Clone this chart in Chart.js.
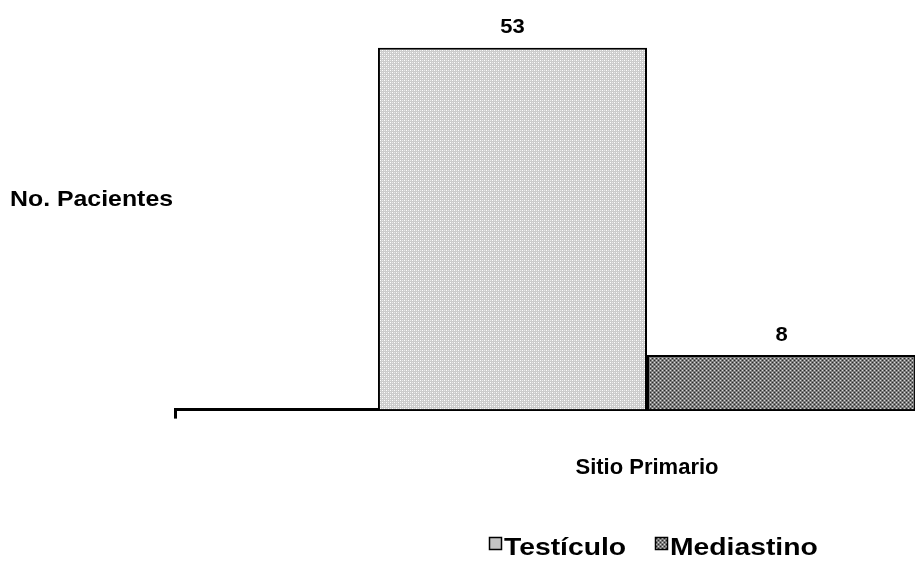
<!DOCTYPE html>
<html lang="es">
<head>
    <meta charset="utf-8">
    <title>Sitio Primario</title>
    <script src="https://cdn.jsdelivr.net/npm/chart.js"></script>
    <style>
        html, body { margin: 0; padding: 0; background: #fff; overflow: hidden; }
        #wrap { width: 915px; height: 561px; overflow: hidden; }
        canvas { display: block; }
    </style>
</head>
<body>
<div id="wrap">
    <canvas id="sitioChart" width="1119" height="561"></canvas>
</div>

<script>
    // data
    var categorias = [''];
    var seriesNames = ['Testículo', 'Mediastino'];
    var testiculo = [53];
    var mediastino = [8];
    var yTitle = 'No. Pacientes';
    var xTitle = 'Sitio Primario';

    var FONT = '"Liberation Sans", Arial, sans-serif';

    // little dotted fills like the old office patterns
    function makePattern(base, dots, dark) {
        var c = document.createElement('canvas');
        c.width = 4; c.height = 4;
        var g = c.getContext('2d');
        g.fillStyle = base;
        g.fillRect(0, 0, 4, 4);
        g.fillStyle = dots;
        g.fillRect(0, 0, 1, 1);
        g.fillRect(2, 2, 1, 1);
        if (dark) {
            g.fillStyle = dark;
            g.fillRect(2, 0, 1, 1);
            g.fillRect(0, 2, 1, 1);
        }
        return g.createPattern(c, 'repeat');
    }
    var fillTest = makePattern('#cccccc', '#ffffff', '#e8e8e8');
    var fillMed = makePattern('#7c7c7c', '#d8d8d8', '#2a2a2a');

    // wide bold text, the original font is broader than Liberation
    function wideText(ctx, txt, x, y, stretch) {
        ctx.save();
        ctx.translate(x, y);
        ctx.scale(stretch, 1);
        ctx.fillText(txt, 0, 0);
        ctx.restore();
    }

    // value labels over bars, horizontal y title, custom legend
    var extras = {
        id: 'extras',
        afterDraw: function (chart) {
            var ctx = chart.ctx;
            ctx.save();
            ctx.fillStyle = '#000';
            ctx.font = 'bold 20px ' + FONT;
            ctx.textAlign = 'center';
            ctx.textBaseline = 'middle';
            chart.data.datasets.forEach(function (ds, i) {
                chart.getDatasetMeta(i).data.forEach(function (bar, j) {
                    wideText(ctx, ds.data[j], bar.x, bar.y - 20, 1.1);
                });
            });

            ctx.font = 'bold 22px ' + FONT;
            ctx.textAlign = 'left';
            wideText(ctx, yTitle, 10, 200, 1.13);

            // legend
            var fills = [fillTest, fillMed];
            var starts = [489, 655];
            ctx.font = 'bold 23px ' + FONT;
            ctx.textBaseline = 'alphabetic';
            for (var k = 0; k < seriesNames.length; k++) {
                ctx.fillStyle = k === 0 ? '#c4c4c4' : fills[k];
                ctx.fillRect(starts[k], 537, 13, 13);
                ctx.strokeStyle = '#000';
                ctx.lineWidth = 1.5;
                ctx.strokeRect(starts[k] + 0.5, 537.5, 12, 12);
                ctx.fillStyle = '#000';
                wideText(ctx, seriesNames[k], starts[k] + 15, 555, 1.23);
            }
            ctx.restore();
        }
    };

    var ctx = document.getElementById('sitioChart').getContext('2d');
    var chart = new Chart(ctx, {
        type: 'bar',
        data: {
            labels: categorias,
            datasets: [{
                label: seriesNames[0],
                data: testiculo,
                backgroundColor: fillTest,
                borderColor: '#000',
                borderWidth: 2,
                borderSkipped: 'bottom'
            }, {
                label: seriesNames[1],
                data: mediastino,
                backgroundColor: fillMed,
                borderColor: '#000',
                borderWidth: 2,
                borderSkipped: 'bottom'
            }]
        },
        options: {
            responsive: false,
            animation: false,
            categoryPercentage: 0.57,
            barPercentage: 1,
            layout: { padding: { left: 175, top: 0, right: 0, bottom: 0 } },
            plugins: {
                legend: { display: false },
                tooltip: { enabled: false }
            },
            scales: {
                y: {
                    display: false,
                    min: 0,
                    max: 60
                },
                x: {
                    grid: {
                        offset: true,
                        drawOnChartArea: false,
                        drawTicks: true,
                        tickLength: 9,
                        color: '#000',
                        lineWidth: 3
                    },
                    border: { display: true, color: '#000', width: 3 },
                    ticks: { display: false },
                    title: {
                        display: true,
                        text: xTitle,
                        color: '#000',
                        font: { family: FONT, size: 22, weight: 'bold' },
                        padding: { top: 36, bottom: 80 }
                    }
                }
            }
        },
        plugins: [extras]
    });
</script>
</body>
</html>
